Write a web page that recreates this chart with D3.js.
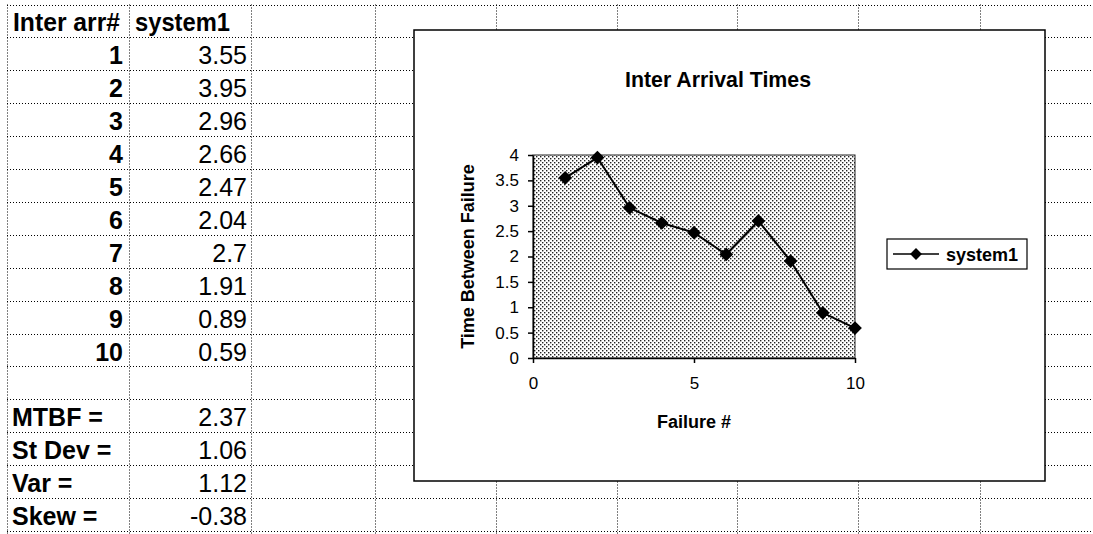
<!DOCTYPE html>
<html>
<head>
<meta charset="utf-8">
<script src="https://cdn.jsdelivr.net/npm/d3@7"></script>
<style>
  html, body { margin: 0; padding: 0; background: #fff; }
  svg { display: block; font-family: "Liberation Sans", Arial, sans-serif; }
</style>
</head>
<body>
<div id="sheet"></div>
<script>
// data
const failures = [1, 2, 3, 4, 5, 6, 7, 8, 9, 10];
const system1 = [3.55, 3.95, 2.96, 2.66, 2.47, 2.04, 2.7, 1.91, 0.89, 0.59];
const statLabels = [`MTBF =`, `St Dev =`, `Var =`, `Skew =`];
const statValues = [`2.37`, `1.06`, `1.12`, `-0.38`];
const xTicks = [0, 5, 10];
const yTicks = [0, 0.5, 1, 1.5, 2, 2.5, 3, 3.5, 4];
const seriesName = `system1`;

const width = 1093;
const height = 534;

const svg = d3.select(`#sheet`).append(`svg`)
  .attr(`width`, width)
  .attr(`height`, height);

const defs = svg.append(`defs`);
const pat = defs.append(`pattern`)
  .attr(`id`, `stipple`)
  .attr(`width`, 4)
  .attr(`height`, 4)
  .attr(`patternUnits`, `userSpaceOnUse`);
pat.append(`rect`).attr(`width`, 4).attr(`height`, 4).attr(`fill`, `#fff`);
pat.append(`rect`).attr(`x`, 0).attr(`y`, 0).attr(`width`, 1.4).attr(`height`, 1.4).attr(`fill`, `#222`);
pat.append(`rect`).attr(`x`, 2).attr(`y`, 2).attr(`width`, 1.4).attr(`height`, 1.4).attr(`fill`, `#222`);

// spreadsheet grid
const rowY = d3.scaleLinear().domain([0, 16]).range([4.5, 530.9]);
const colX = [7, 129, 251, 375, 496, 617, 737, 858, 980, 1101];

const grid = svg.append(`g`)
  .attr(`stroke`, `#000`)
  .attr(`stroke-width`, 1)
  .attr(`stroke-dasharray`, `1,2`);

grid.selectAll(`.hline`)
  .data(d3.range(17))
  .enter().append(`line`)
    .attr(`x1`, colX[0])
    .attr(`x2`, width)
    .attr(`y1`, d => Math.round(rowY(d)) + 0.5)
    .attr(`y2`, d => Math.round(rowY(d)) + 0.5);

grid.selectAll(`.vline`)
  .data(colX)
  .enter().append(`line`)
    .attr(`x1`, d => d + 0.5)
    .attr(`x2`, d => d + 0.5)
    .attr(`y1`, rowY(0))
    .attr(`y2`, height);

// table text
const base = i => rowY(i) + 27;
const table = svg.append(`g`).attr(`font-size`, 25).attr(`fill`, `#000`);

table.append(`text`)
  .attr(`x`, 13).attr(`y`, base(0) - 1)
  .attr(`font-weight`, `bold`)
  .attr(`textLength`, 107)
  .attr(`lengthAdjust`, `spacingAndGlyphs`)
  .text(`Inter arr#`);
table.append(`text`)
  .attr(`x`, 135).attr(`y`, base(0) - 1)
  .attr(`font-weight`, `bold`)
  .attr(`textLength`, 95)
  .attr(`lengthAdjust`, `spacingAndGlyphs`)
  .text(seriesName);

table.selectAll(`.num`)
  .data(failures)
  .enter().append(`text`)
    .attr(`x`, 123)
    .attr(`y`, (d, i) => base(i + 1))
    .attr(`text-anchor`, `end`)
    .attr(`font-weight`, `bold`)
    .text(d => d);

table.selectAll(`.val`)
  .data(system1)
  .enter().append(`text`)
    .attr(`x`, 247)
    .attr(`y`, (d, i) => base(i + 1))
    .attr(`text-anchor`, `end`)
    .text(d => d);

table.selectAll(`.slabel`)
  .data(statLabels)
  .enter().append(`text`)
    .attr(`x`, 12)
    .attr(`y`, (d, i) => base(i + 12))
    .attr(`font-weight`, `bold`)
    .text(d => d);

table.selectAll(`.sval`)
  .data(statValues)
  .enter().append(`text`)
    .attr(`x`, 247)
    .attr(`y`, (d, i) => base(i + 12))
    .attr(`text-anchor`, `end`)
    .text(d => d);

// chart object
const frame = {left: 414, top: 30, right: 1045, bottom: 481};
const chart = svg.append(`g`);

chart.append(`rect`)
  .attr(`x`, frame.left)
  .attr(`y`, frame.top)
  .attr(`width`, frame.right - frame.left)
  .attr(`height`, frame.bottom - frame.top)
  .attr(`fill`, `#fff`)
  .attr(`stroke`, `#000`)
  .attr(`stroke-width`, 1.5);

chart.append(`text`)
  .attr(`x`, 718)
  .attr(`y`, 87)
  .attr(`text-anchor`, `middle`)
  .attr(`font-size`, 22)
  .attr(`font-weight`, `bold`)
  .attr(`textLength`, 186)
  .attr(`lengthAdjust`, `spacingAndGlyphs`)
  .text(`Inter Arrival Times`);

const plot = {left: 533, top: 155, right: 855, bottom: 358};
const x = d3.scaleLinear().domain([0, 10]).range([plot.left, plot.right]);
const y = d3.scaleLinear().domain([0, 4]).range([plot.bottom, plot.top]);

chart.append(`rect`)
  .attr(`x`, plot.left)
  .attr(`y`, plot.top)
  .attr(`width`, plot.right - plot.left)
  .attr(`height`, plot.bottom - plot.top)
  .attr(`fill`, `url(#stipple)`)
  .attr(`stroke`, `#222`)
  .attr(`stroke-width`, 1);

const xAxis = chart.append(`g`)
  .attr(`transform`, `translate(0,${plot.bottom})`)
  .call(d3.axisBottom(x).tickValues(xTicks).tickFormat(d => d)
    .tickSizeInner(5).tickSizeOuter(0).tickPadding(14));

const yAxis = chart.append(`g`)
  .attr(`transform`, `translate(${plot.left},0)`)
  .call(d3.axisLeft(y).tickValues(yTicks).tickFormat(d => d)
    .tickSizeInner(5).tickSizeOuter(0).tickPadding(9));

[xAxis, yAxis].forEach(a => {
  a.selectAll(`path, line`).attr(`stroke`, `#000`).attr(`stroke-width`, 1.5);
  a.selectAll(`text`)
    .attr(`font-family`, `"Liberation Sans", Arial, sans-serif`)
    .attr(`font-size`, 17)
    .attr(`fill`, `#000`);
});

chart.append(`text`)
  .attr(`transform`, `translate(474,${(plot.top + plot.bottom) / 2}) rotate(-90)`)
  .attr(`text-anchor`, `middle`)
  .attr(`font-size`, 18)
  .attr(`font-weight`, `bold`)
  .text(`Time Between Failure`);

chart.append(`text`)
  .attr(`x`, (plot.left + plot.right) / 2)
  .attr(`y`, 428)
  .attr(`text-anchor`, `middle`)
  .attr(`font-size`, 18)
  .attr(`font-weight`, `bold`)
  .text(`Failure #`);

const pts = failures.map((f, i) => [f, system1[i]]);

chart.append(`path`)
  .datum(pts)
  .attr(`fill`, `none`)
  .attr(`stroke`, `#000`)
  .attr(`stroke-width`, 2)
  .attr(`d`, d3.line().x(d => x(d[0])).y(d => y(d[1])));

const diamond = d3.symbol().type(d3.symbolDiamond2).size(120);
chart.selectAll(`.marker`)
  .data(pts)
  .enter().append(`path`)
    .attr(`transform`, d => `translate(${x(d[0])},${y(d[1])})`)
    .attr(`d`, diamond)
    .attr(`fill`, `#000`);

// legend
const lg = chart.append(`g`);
lg.append(`rect`)
  .attr(`x`, 887).attr(`y`, 239)
  .attr(`width`, 140).attr(`height`, 30)
  .attr(`fill`, `#fff`)
  .attr(`stroke`, `#000`)
  .attr(`stroke-width`, 1.2);
lg.append(`line`)
  .attr(`x1`, 893).attr(`x2`, 939)
  .attr(`y1`, 254).attr(`y2`, 254)
  .attr(`stroke`, `#000`).attr(`stroke-width`, 1.5);
lg.append(`path`)
  .attr(`transform`, `translate(916,254)`)
  .attr(`d`, d3.symbol().type(d3.symbolDiamond2).size(90))
  .attr(`fill`, `#000`);
lg.append(`text`)
  .attr(`x`, 946).attr(`y`, 261)
  .attr(`font-size`, 18)
  .attr(`font-weight`, `bold`)
  .text(seriesName);
</script>
</body>
</html>
